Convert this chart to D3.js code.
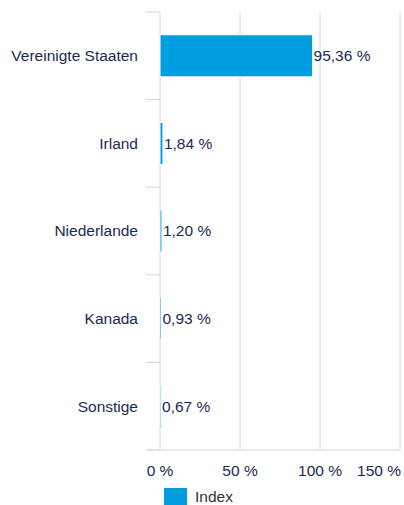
<!DOCTYPE html>
<html lang="de">
<head>
    <meta charset="UTF-8">
    <title>Länderallokation</title>
    <style>
        body { margin: 0; background: #fff; }
        svg { display: block; }
        text { font-family: "Liberation Sans", Arial, sans-serif; }
    </style>
    <script src="https://d3js.org/d3.v7.min.js"></script>
</head>
<body>
    <svg width="404" height="505"></svg>
    <script>
        // Daten
        const countries = ["Vereinigte Staaten", "Irland", "Niederlande", "Kanada", "Sonstige"];
        const weights = [95.36, 1.84, 1.20, 0.93, 0.67];
        const xTicks = [0, 50, 100, 150];
        const seriesName = "Index";

        const svg = d3.select("svg");
        const textColor = "#1a2a56";
        const gridColor = "#ccd6eb";
        const barColor = "#009ee0";
        const fontSize = "15.5px";

        const x = d3.scaleLinear().domain([0, 150]).range([160, 400]);
        const y = d3.scaleBand().domain(countries).range([12, 450]).paddingInner(0.52).paddingOuter(0.26);
        const band = d3.scaleBand().domain(countries).range([12, 450]);

        const fmt = v => v.toFixed(2).replace(".", ",") + " %";

        // Gitterlinien
        svg.selectAll("line.grid")
            .data(xTicks)
            .enter().append("line")
            .attr("class", "grid")
            .attr("x1", d => x(d)).attr("x2", d => x(d))
            .attr("y1", 12).attr("y2", 450)
            .style("stroke", gridColor);

        // Kategorie-Ticks
        const bounds = countries.map(c => band(c)).concat([450]);
        svg.selectAll("line.tick")
            .data(bounds)
            .enter().append("line")
            .attr("class", "tick")
            .attr("x1", 146).attr("x2", 160)
            .attr("y1", d => d).attr("y2", d => d)
            .style("stroke", gridColor);

        // untere Achsenlinie
        svg.append("line")
            .attr("x1", 146).attr("x2", 400)
            .attr("y1", 450).attr("y2", 450)
            .style("stroke", gridColor);

        // Balken (mit weißem Rand wie im Original)
        svg.selectAll("rect.bar")
            .data(weights)
            .enter().append("rect")
            .attr("class", "bar")
            .attr("x", x(0))
            .attr("y", (d, i) => y(countries[i]))
            .attr("width", d => x(d) - x(0))
            .attr("height", y.bandwidth())
            .style("fill", barColor)
            .style("stroke", "#fff")
            .style("stroke-width", 1);

        // Wertbeschriftungen
        svg.selectAll("text.val")
            .data(weights)
            .enter().append("text")
            .attr("class", "val")
            .attr("x", d => x(d) + 1)
            .attr("y", (d, i) => band(countries[i]) + band.bandwidth() / 2)
            .attr("dy", "0.35em")
            .style("font-size", fontSize)
            .style("fill", textColor)
            .text(fmt);

        // Kategorienamen
        svg.selectAll("text.cat")
            .data(countries)
            .enter().append("text")
            .attr("class", "cat")
            .attr("x", 138)
            .attr("y", d => band(d) + band.bandwidth() / 2)
            .attr("dy", "0.35em")
            .attr("text-anchor", "end")
            .style("font-size", fontSize)
            .style("fill", textColor)
            .text(d => d);

        // x-Achsenbeschriftung (letzte nach innen geschoben)
        svg.selectAll("text.xt")
            .data(xTicks)
            .enter().append("text")
            .attr("class", "xt")
            .attr("x", (d, i) => i === xTicks.length - 1 ? 401 : x(d))
            .attr("y", 476)
            .attr("text-anchor", (d, i) => i === xTicks.length - 1 ? "end" : "middle")
            .style("font-size", fontSize)
            .style("fill", textColor)
            .text(d => d + " %");

        // Legende
        svg.append("rect")
            .attr("x", 164).attr("y", 488)
            .attr("width", 23).attr("height", 20)
            .style("fill", barColor);
        svg.append("text")
            .attr("x", 195).attr("y", 502)
            .style("font-size", fontSize)
            .style("fill", "#333")
            .text(seriesName);
    </script>
</body>
</html>
